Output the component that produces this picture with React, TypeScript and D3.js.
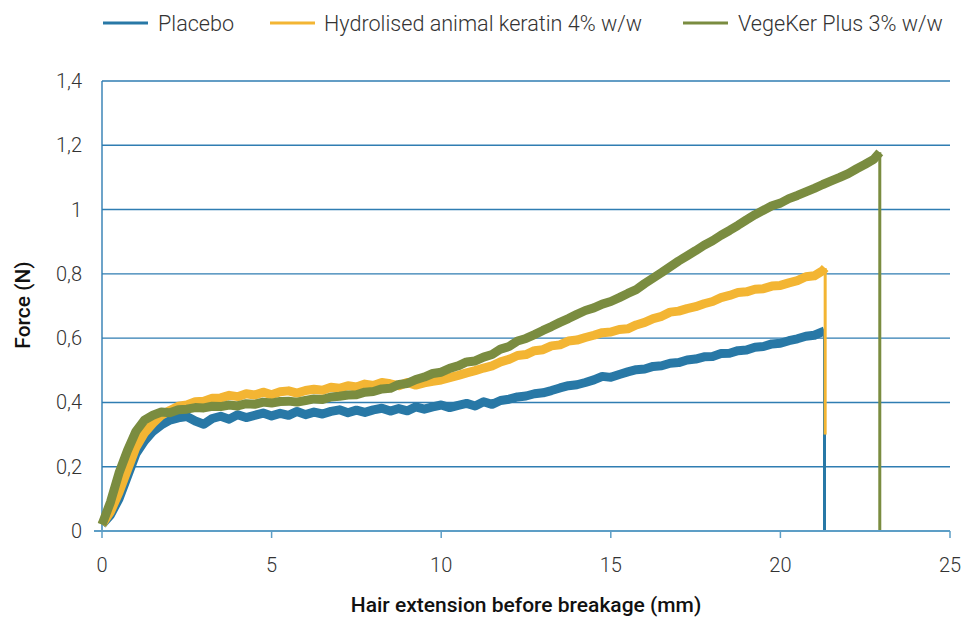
import React from "react";
import * as d3 from "d3";

const seriesNames = ["Placebo", "Hydrolised animal keratin 4% w/w", "VegeKer Plus 3% w/w"];
const seriesColors = ["#2878a6", "#f3b533", "#7a8c40"];

const sampleStep = 0.25; // mm between readings

const placeboValues = [
  0.02, 0.05, 0.1, 0.17, 0.24, 0.28, 0.31, 0.33,
  0.345, 0.352, 0.356, 0.342, 0.332, 0.35, 0.357, 0.348,
  0.362, 0.353, 0.36, 0.367, 0.358, 0.366, 0.36, 0.372,
  0.362, 0.37, 0.364, 0.372, 0.377, 0.368, 0.376, 0.369,
  0.377, 0.382, 0.373, 0.381, 0.374, 0.386, 0.379, 0.386,
  0.392, 0.384, 0.391, 0.397, 0.389, 0.402, 0.394, 0.406,
  0.41, 0.417, 0.42, 0.427, 0.43, 0.437, 0.445, 0.452,
  0.455, 0.462, 0.47, 0.481, 0.478, 0.487, 0.495, 0.502,
  0.504, 0.512, 0.514, 0.522, 0.524, 0.532, 0.535, 0.542,
  0.543, 0.552, 0.553, 0.561, 0.563, 0.572, 0.574, 0.582,
  0.584, 0.592, 0.598, 0.606, 0.609, 0.62,
];
const placeboEnd = [[21.3, 0.622], [21.3, 0]];

const keratinValues = [
  0.02, 0.06, 0.12, 0.19, 0.26, 0.305, 0.335, 0.36,
  0.375, 0.388, 0.392, 0.402, 0.404, 0.413, 0.414, 0.422,
  0.418, 0.427, 0.423, 0.432, 0.424, 0.433, 0.436, 0.429,
  0.437, 0.441, 0.438, 0.447, 0.444, 0.452, 0.448, 0.457,
  0.453, 0.462, 0.458, 0.452, 0.462, 0.454, 0.461, 0.466,
  0.47, 0.477, 0.484, 0.492, 0.499, 0.507, 0.514, 0.526,
  0.534, 0.546, 0.549, 0.561, 0.564, 0.576, 0.579, 0.591,
  0.594, 0.602, 0.609, 0.617, 0.619, 0.627, 0.629, 0.641,
  0.649, 0.661, 0.668, 0.681, 0.684, 0.692, 0.698, 0.707,
  0.714, 0.726, 0.733, 0.742, 0.744, 0.752, 0.754, 0.762,
  0.764, 0.772, 0.779, 0.791, 0.794, 0.81,
];
const keratinEnd = [[21.32, 0.818], [21.32, 0.3]];

const vegekerValues = [
  0.02, 0.09, 0.18, 0.25, 0.31, 0.345, 0.36, 0.37,
  0.368, 0.377, 0.379, 0.384, 0.383, 0.388, 0.387, 0.392,
  0.389, 0.396, 0.394, 0.401, 0.398, 0.403, 0.404, 0.401,
  0.406, 0.411, 0.409, 0.417, 0.419, 0.423, 0.424, 0.432,
  0.434, 0.442, 0.444, 0.456, 0.459, 0.471, 0.479, 0.49,
  0.494, 0.506, 0.514, 0.526, 0.529, 0.541, 0.549, 0.566,
  0.574, 0.591, 0.599, 0.611, 0.624, 0.636, 0.649, 0.661,
  0.674, 0.686, 0.694, 0.706, 0.714, 0.726, 0.739, 0.751,
  0.77, 0.787, 0.804, 0.822, 0.84, 0.856, 0.872, 0.889,
  0.903, 0.92, 0.935, 0.951, 0.968, 0.984, 0.998, 1.012,
  1.02, 1.034, 1.044, 1.055, 1.066, 1.078, 1.089, 1.1,
  1.112, 1.127, 1.141, 1.156,
];
const vegekerEnd = [[22.93, 1.178], [22.93, 0]];

const xTicks = [0, 5, 10, 15, 20, 25];
const yTicks = [0, 0.2, 0.4, 0.6, 0.8, 1, 1.2, 1.4];
const yTickLabels = ["0", "0,2", "0,4", "0,6", "0,8", "1", "1,2", "1,4"];

const W = 978;
const H = 617;
const left = 102;
const right = 950;
const top = 81;
const bottom = 531;

export default function App() {
  const x = d3.scaleLinear().domain([0, 25]).range([left, right]);
  const y = d3.scaleLinear().domain([0, 1.4]).range([bottom, top]);
  const line = d3
    .line<number[]>()
    .x((d) => x(d[0]))
    .y((d) => y(d[1]));

  const series = [
    { vals: placeboValues, end: placeboEnd },
    { vals: keratinValues, end: keratinEnd },
    { vals: vegekerValues, end: vegekerEnd },
  ].map((s) => {
    const pts = s.vals.map((v, i) => [i * sampleStep, v]);
    pts.push(s.end[0]);
    return { pts, drop: s.end };
  });

  const font = "Roboto, 'Noto Sans', sans-serif";
  const legendItems = [
    { lx: 103, tx: 158 },
    { lx: 270, tx: 324 },
    { lx: 683, tx: 738 },
  ];

  return (
    <svg
      width={W}
      height={H}
      style={{ position: "absolute", left: 0, top: 0, background: "#fff" }}
      fontFamily={font}
    >
      {/* gridlines */}
      {yTicks.slice(1).map((t) => (
        <line key={t} x1={left} x2={right} y1={y(t)} y2={y(t)} stroke="#2f7db2" strokeWidth={1.4} />
      ))}
      {/* left axis */}
      <line x1={left} x2={left} y1={top} y2={bottom} stroke="#2f7db2" strokeWidth={1.4} />
      {/* series */}
      {series.map((s, i) => (
        <g key={i}>
          <path
            d={line(s.pts) || ""}
            fill="none"
            stroke={seriesColors[i]}
            strokeWidth={9}
            strokeLinejoin="round"
            strokeLinecap="butt"
          />
          <path d={line(s.drop) || ""} fill="none" stroke={seriesColors[i]} strokeWidth={3} />
        </g>
      ))}
      {/* bottom axis */}
      <line x1={left - 8} x2={right} y1={bottom} y2={bottom} stroke="#5d9ec6" strokeWidth={2} />
      {xTicks.map((t) => (
        <line key={t} x1={x(t)} x2={x(t)} y1={bottom} y2={bottom + 7} stroke="#5d9ec6" strokeWidth={1.5} />
      ))}
      {/* x tick labels */}
      {xTicks.map((t) => (
        <text key={t} x={x(t)} y={572} textAnchor="middle" fontSize={20} fontWeight={300} fill="#333">
          {t}
        </text>
      ))}
      {/* y tick labels */}
      {yTicks.map((t, i) => (
        <text key={t} x={82} y={y(t) + 7} textAnchor="end" fontSize={20} fontWeight={300} fill="#333">
          {yTickLabels[i]}
        </text>
      ))}
      {/* axis titles */}
      <text x={526} y={612} textAnchor="middle" fontSize={21} fontWeight={500} fill="#111">
        Hair extension before breakage (mm)
      </text>
      <text
        transform={`translate(30, 305) rotate(-90)`}
        textAnchor="middle"
        fontSize={21}
        fontWeight={500}
        fill="#111"
      >
        Force (N)
      </text>
      {/* legend */}
      {legendItems.map((l, i) => (
        <g key={i}>
          <line x1={l.lx} x2={l.lx + 45} y1={23} y2={23} stroke={seriesColors[i]} strokeWidth={3} />
          <text x={l.tx} y={30.5} fontSize={21.6} fontWeight={300} fill="#333">
            {seriesNames[i]}
          </text>
        </g>
      ))}
    </svg>
  );
}
